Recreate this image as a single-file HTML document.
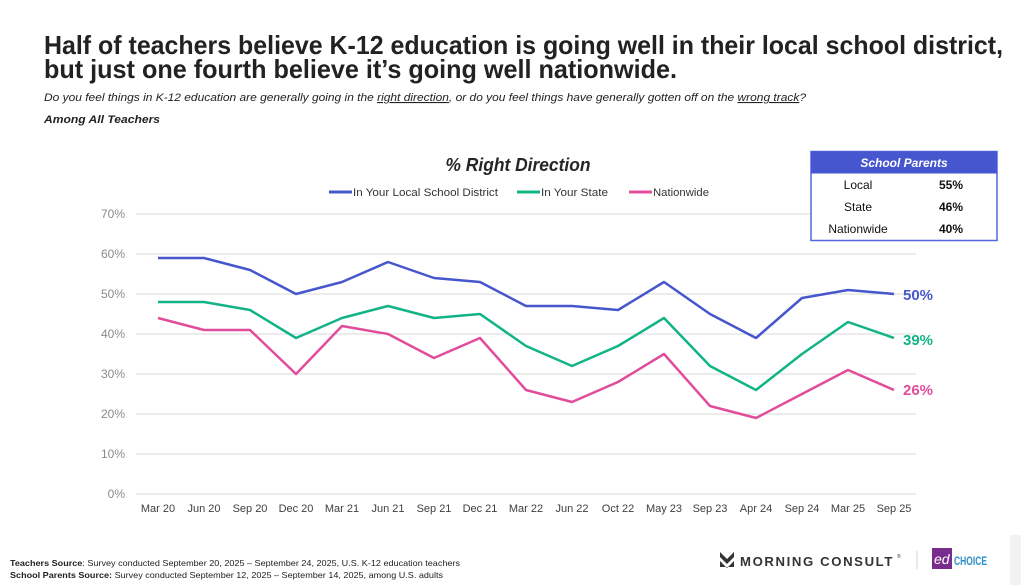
<!DOCTYPE html>
<html>
<head>
<meta charset="utf-8">
<style>
  html,body{margin:0;padding:0;background:#fff;}
  svg{display:block;}
  text{font-family:"Liberation Sans", Arial, sans-serif;}
</style>
</head>
<body>
<svg width="1021" height="585" viewBox="0 0 1021 585" xmlns="http://www.w3.org/2000/svg">
  <rect x="0" y="0" width="1021" height="585" fill="#ffffff"/>

  <!-- Title -->
  <text x="44" y="54" font-size="26" font-weight="bold" fill="#222" textLength="959" lengthAdjust="spacingAndGlyphs">Half of teachers believe K-12 education is going well in their local school district,</text>
  <text x="44" y="78" font-size="26" font-weight="bold" fill="#222" textLength="633" lengthAdjust="spacingAndGlyphs">but just one fourth believe it’s going well nationwide.</text>

  <!-- Subtitle -->
  <text x="44" y="101" font-size="11" font-style="italic" fill="#222" textLength="762" lengthAdjust="spacingAndGlyphs">Do you feel things in K-12 education are generally going in the <tspan text-decoration="underline">right direction</tspan>, or do you feel things have generally gotten off on the <tspan text-decoration="underline">wrong track</tspan>?</text>
  <text x="44" y="123" font-size="11" font-style="italic" font-weight="bold" fill="#222" textLength="116" lengthAdjust="spacingAndGlyphs">Among All Teachers</text>

  <!-- Chart title -->
  <text x="518" y="171" font-size="18" font-style="italic" font-weight="bold" fill="#262626" text-anchor="middle" textLength="145" lengthAdjust="spacingAndGlyphs">% Right Direction</text>

  <!-- Legend -->
  <line x1="329" y1="192" x2="352" y2="192" stroke="#4657CE" stroke-width="3"/>
  <text x="353" y="196" font-size="11" fill="#333" textLength="145" lengthAdjust="spacingAndGlyphs">In Your Local School District</text>
  <line x1="517" y1="192" x2="540" y2="192" stroke="#12B386" stroke-width="3"/>
  <text x="541" y="196" font-size="11" fill="#333" textLength="67" lengthAdjust="spacingAndGlyphs">In Your State</text>
  <line x1="629" y1="192" x2="652" y2="192" stroke="#E14D9B" stroke-width="3"/>
  <text x="653" y="196" font-size="11" fill="#333" textLength="56" lengthAdjust="spacingAndGlyphs">Nationwide</text>

  <!-- Gridlines -->
  <g stroke="#d9d9d9" stroke-width="1">
    <line x1="136" y1="214" x2="916" y2="214"/>
    <line x1="136" y1="254" x2="916" y2="254"/>
    <line x1="136" y1="294" x2="916" y2="294"/>
    <line x1="136" y1="334" x2="916" y2="334"/>
    <line x1="136" y1="374" x2="916" y2="374"/>
    <line x1="136" y1="414" x2="916" y2="414"/>
    <line x1="136" y1="454" x2="916" y2="454"/>
    <line x1="136" y1="494" x2="916" y2="494"/>
  </g>

  <!-- Y labels -->
  <g font-size="12" fill="#8a8a8a" text-anchor="end">
    <text x="125" y="218">70%</text>
    <text x="125" y="258">60%</text>
    <text x="125" y="298">50%</text>
    <text x="125" y="338">40%</text>
    <text x="125" y="378">30%</text>
    <text x="125" y="418">20%</text>
    <text x="125" y="458">10%</text>
    <text x="125" y="498">0%</text>
  </g>

  <!-- X labels -->
  <g font-size="11" fill="#404040" text-anchor="middle">
    <text x="158" y="512">Mar 20</text>
    <text x="204" y="512">Jun 20</text>
    <text x="250" y="512">Sep 20</text>
    <text x="296" y="512">Dec 20</text>
    <text x="342" y="512">Mar 21</text>
    <text x="388" y="512">Jun 21</text>
    <text x="434" y="512">Sep 21</text>
    <text x="480" y="512">Dec 21</text>
    <text x="526" y="512">Mar 22</text>
    <text x="572" y="512">Jun 22</text>
    <text x="618" y="512">Oct 22</text>
    <text x="664" y="512">May 23</text>
    <text x="710" y="512">Sep 23</text>
    <text x="756" y="512">Apr 24</text>
    <text x="802" y="512">Sep 24</text>
    <text x="848" y="512">Mar 25</text>
    <text x="894" y="512">Sep 25</text>
  </g>

  <!-- Series -->
  <polyline fill="none" stroke="#E14D9B" stroke-width="2.5" stroke-linejoin="round"
    points="158,318 204,330 250,330 296,374 342,326 388,334 434,358 480,338 526,390 572,402 618,382 664,354 710,406 756,418 802,394 848,370 894,390"/>
  <polyline fill="none" stroke="#12B386" stroke-width="2.5" stroke-linejoin="round"
    points="158,302 204,302 250,310 296,338 342,318 388,306 434,318 480,314 526,346 572,366 618,346 664,318 710,366 756,390 802,354 848,322 894,338"/>
  <polyline fill="none" stroke="#4657CE" stroke-width="2.5" stroke-linejoin="round"
    points="158,258 204,258 250,270 296,294 342,282 388,262 434,278 480,282 526,306 572,306 618,310 664,282 710,314 756,338 802,298 848,290 894,294"/>

  <!-- End labels -->
  <text x="903" y="300" font-size="15" font-weight="bold" fill="#4657CE">50%</text>
  <text x="903" y="345" font-size="15" font-weight="bold" fill="#12B386">39%</text>
  <text x="903" y="395" font-size="15" font-weight="bold" fill="#E14D9B">26%</text>

  <!-- School Parents box -->
  <rect x="811" y="151.5" width="186" height="89" fill="#fff" stroke="#5566D8" stroke-width="1.5"/>
  <rect x="811" y="151.5" width="186" height="22" fill="#4556CF"/>
  <text x="904" y="167" font-size="12" font-weight="bold" font-style="italic" fill="#fff" text-anchor="middle">School Parents</text>
  <g font-size="12" fill="#111" text-anchor="middle">
    <text x="858" y="189">Local</text>
    <text x="858" y="211">State</text>
    <text x="858" y="233">Nationwide</text>
  </g>
  <g font-size="12" font-weight="bold" fill="#111" text-anchor="middle">
    <text x="951" y="189">55%</text>
    <text x="951" y="211">46%</text>
    <text x="951" y="233">40%</text>
  </g>

  <!-- Footer sources -->
  <text x="10" y="566" font-size="8.5" fill="#222" textLength="450" lengthAdjust="spacingAndGlyphs"><tspan font-weight="bold">Teachers Source</tspan>: Survey conducted September 20, 2025 – September 24, 2025, U.S. K-12 education teachers</text>
  <text x="10" y="578" font-size="8.5" fill="#222" textLength="433" lengthAdjust="spacingAndGlyphs"><tspan font-weight="bold">School Parents Source:</tspan> Survey conducted September 12, 2025 – September 14, 2025, among U.S. adults</text>

  <!-- Morning Consult logo -->
  <polygon points="720,552 727,559 734,552 734,557 727,564 720,557" fill="#333"/>
  <polygon points="720,561 727,568 734,561 734,567 720,567" fill="#333"/>
  <text x="740" y="566" font-size="13" font-weight="bold" fill="#333" letter-spacing="1.6" textLength="154" lengthAdjust="spacingAndGlyphs">MORNING CONSULT</text>
  <text x="897" y="558" font-size="5" fill="#333">®</text>
  <line x1="917" y1="551" x2="917" y2="569" stroke="#cfcfcf" stroke-width="1"/>

  <!-- edChoice logo -->
  <rect x="932" y="548" width="20" height="21" fill="#7A2C8C"/>
  <text x="934" y="564" font-size="14" font-style="italic" fill="#fff" font-family="Liberation Serif, serif">ed</text>
  <text x="954" y="565" font-size="12" font-weight="bold" fill="#2B8FCB" textLength="33" lengthAdjust="spacingAndGlyphs">CHOICE</text>

  <!-- right gray strip -->
  <rect x="1010" y="535" width="11" height="50" fill="#f2f2f2"/>
</svg>
</body>
</html>
